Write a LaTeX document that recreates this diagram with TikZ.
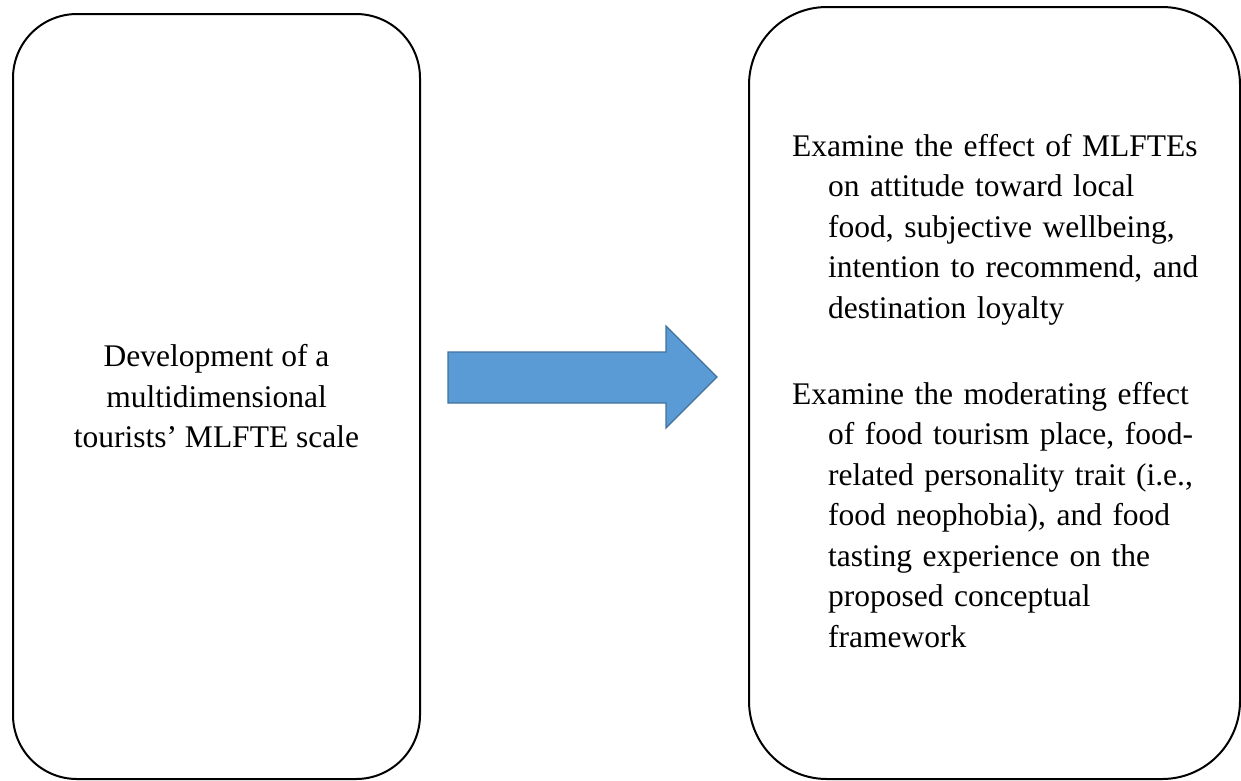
\documentclass[tikz,border=0pt]{standalone}
\usepackage{fontspec}
\setmainfont{Liberation Serif}
\usetikzlibrary{positioning,calc}
\definecolor{ArrowBlue}{RGB}{91,155,213}
\definecolor{ArrowEdge}{RGB}{65,113,156}
\tikzset{
  stagebox/.style={draw=black,line width=2pt,inner sep=0pt},
  stagetext/.style={inner sep=0pt,font=\fontsize{31.5}{40.5}\selectfont},
  aimtext/.style={stagetext,text width=440pt,align=left,anchor=base west},
  blockarr/.style={fill=ArrowBlue,draw=ArrowEdge,line width=1.2pt,line join=miter},
}
% continuation line of a hanging item
\newcommand{\hangline}{\newline\hspace*{36pt}}

\begin{document}
\begin{tikzpicture}[x=1pt,y=-1pt]
        \useasboundingbox (0,0) rectangle (1241,780);
        \node[stagebox,rounded corners=64pt,minimum width=407pt,minimum height=765pt] (dev) at (216.5,396.5) {};
        \node[stagebox,rounded corners=78pt,minimum width=491pt,minimum height=772pt] (exam) at (994.5,393) {};
        \node[stagetext,align=center] (devtxt) at (dev.center)
          {Development of a\\multidimensional\\tourists’ MLFTE scale};
        \node[aimtext] (aimone) at ($(exam.north west)+(44,150)$)
          {Examine the effect of MLFTEs\hangline on attitude toward local\hangline
           food, subjective wellbeing,\hangline intention to recommend, and\hangline
           destination loyalty};
        \node[aimtext] (aimtwo) at ($(exam.north west)+(44,398)$)
          {Examine the moderating effect\hangline of food tourism place, food-\hangline
           related personality trait (i.e.,\hangline food neophobia), and food\hangline
           tasting experience on the\hangline proposed conceptual\hangline framework};
        % block arrow between the two stages
        \coordinate (tail) at ($(dev.east)+(27,-44.5)$);
        \draw[blockarr] (tail) -- ++(218,0) -- ++(0,-26) -- ++(51,51)
          -- ++(-51,51) -- ++(0,-25) -- ++(-218,0) -- cycle;
      \end{tikzpicture}
\end{document}
